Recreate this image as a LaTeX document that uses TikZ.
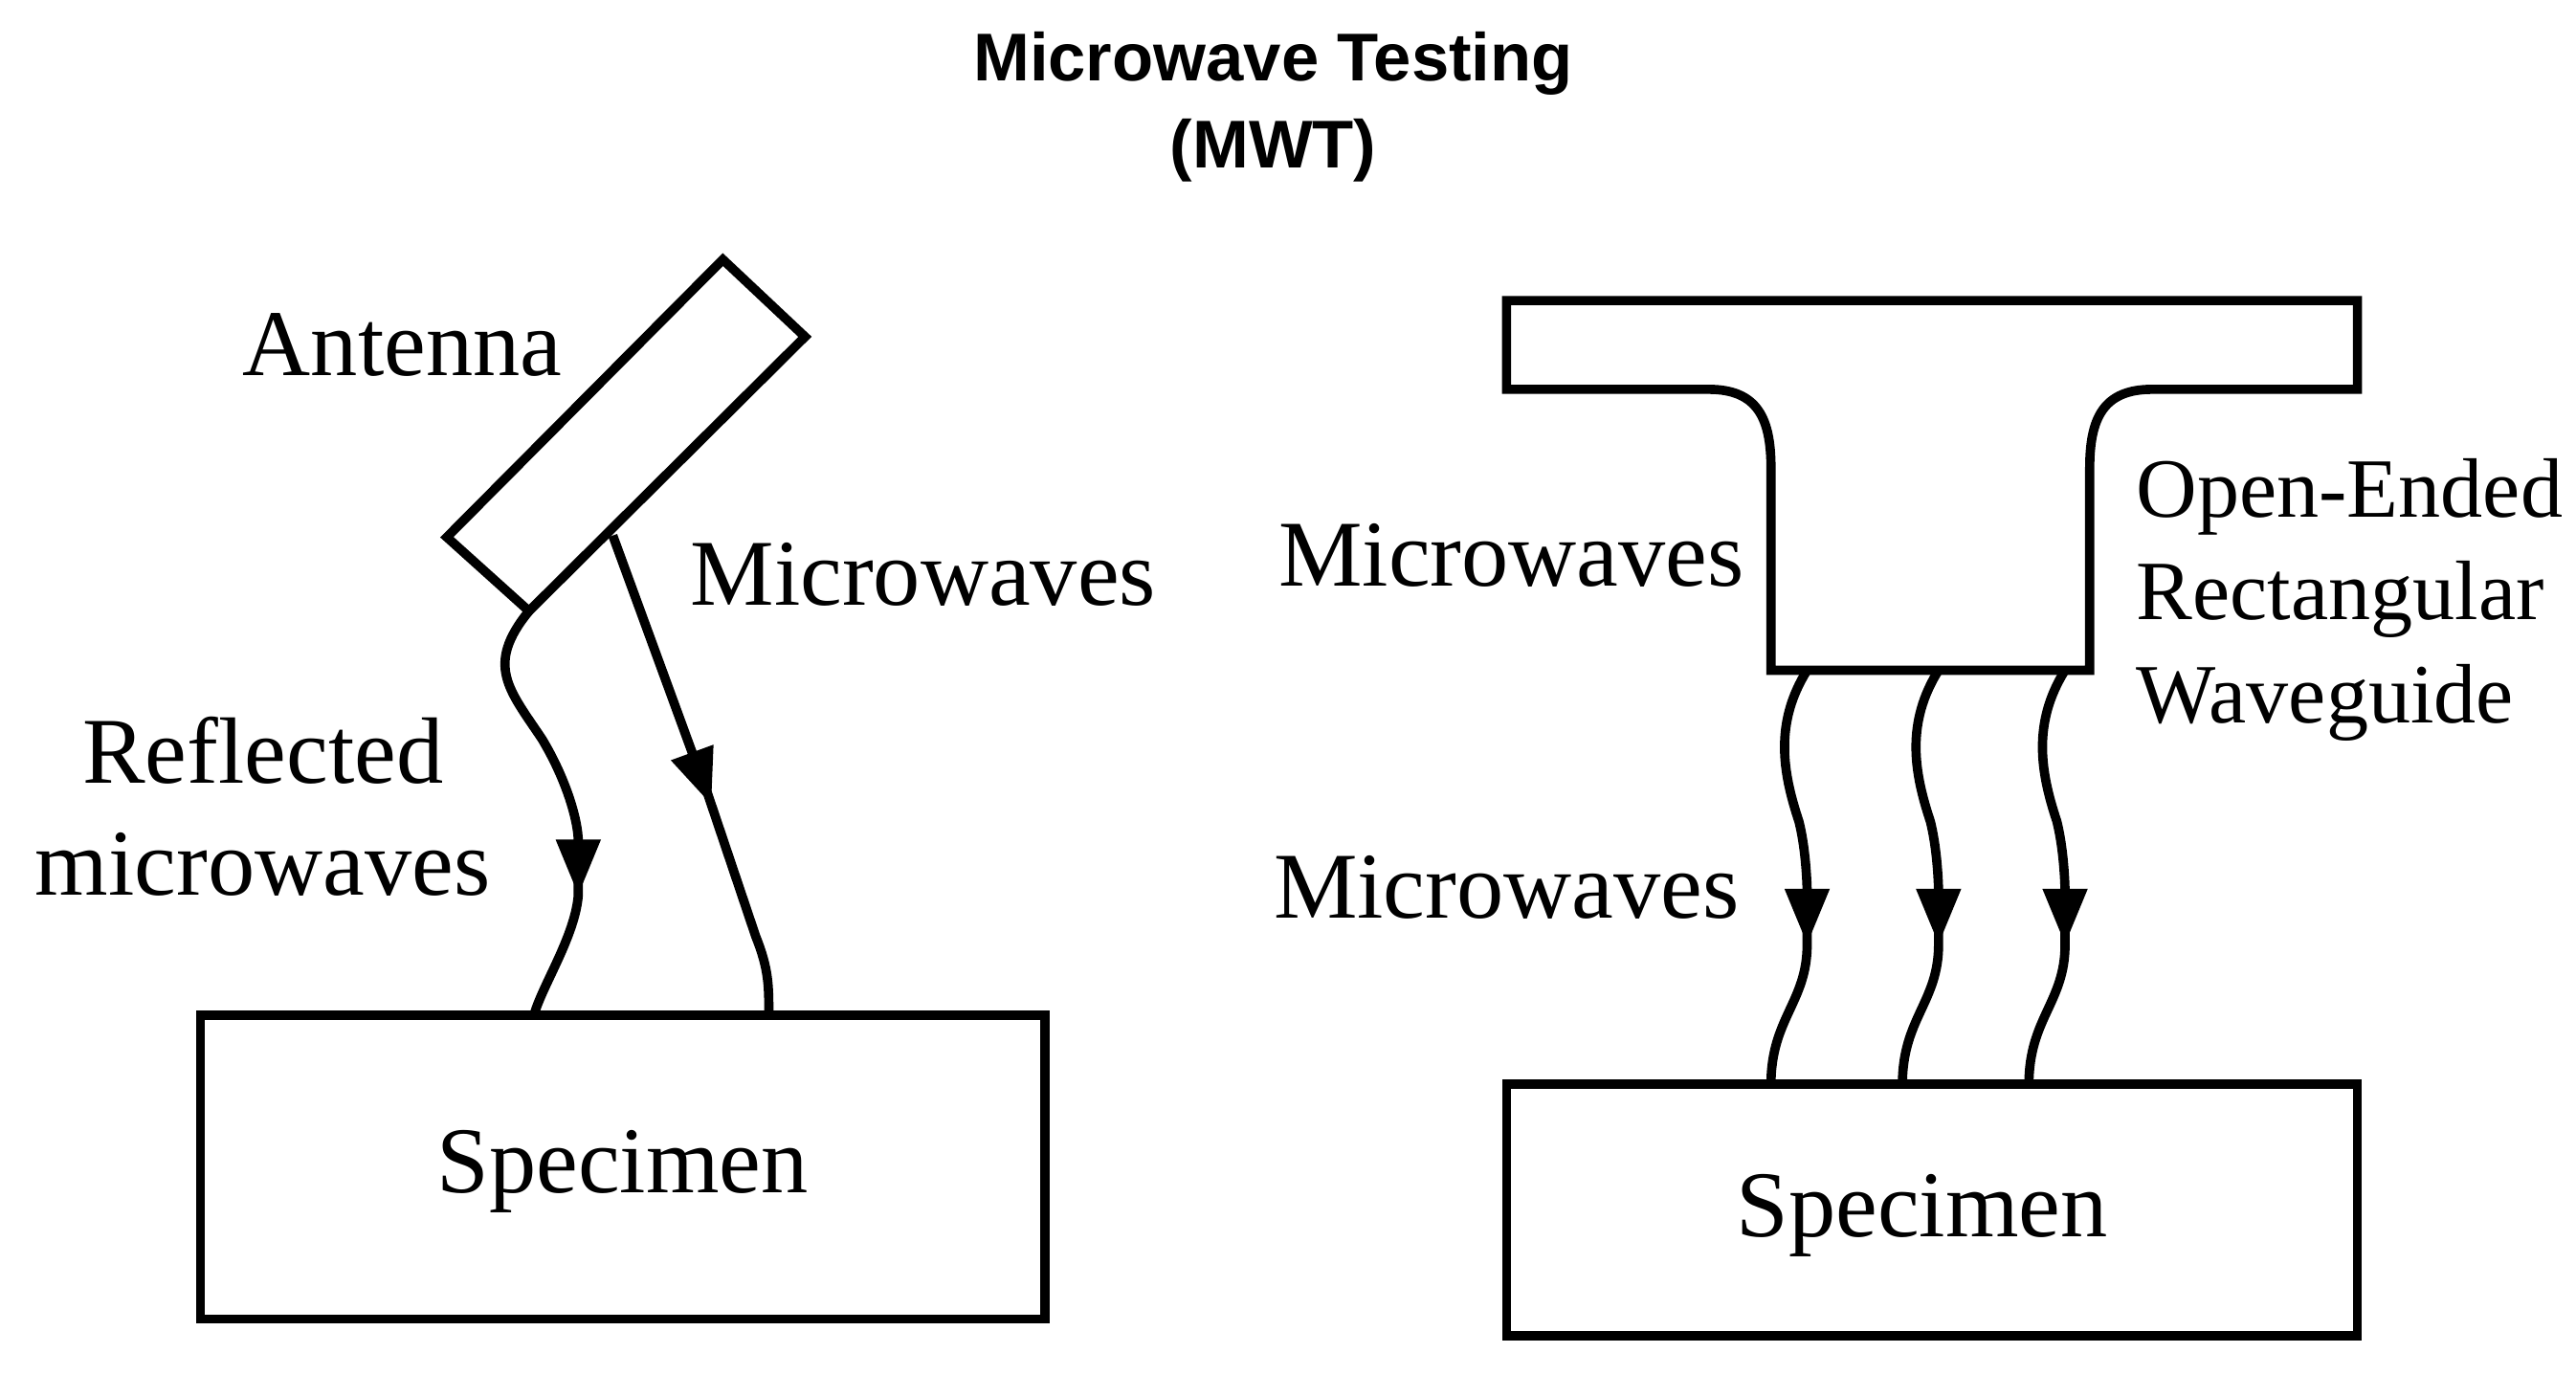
\documentclass[tikz,border=0pt]{standalone}
\usepackage{fontspec}
\setmainfont{Liberation Serif}
\newfontfamily\titlefont{Liberation Sans}
\usetikzlibrary{arrows.meta}
\tikzset{
  lbl/.style={font=\fontsize{16.3pt}{19.5pt}\selectfont},
  box/.style={draw,line width=1.6pt},
  wave/.style={line width=1.6pt},
  tip/.style={-{Triangle[length=3.4mm,width=2.6mm]}}
}
\begin{document}
\begin{tikzpicture}[x=0.01cm,y=-0.01cm]
	\useasboundingbox (0,0) rectangle (1568,837);
	% title
	\node[font=\titlefont\bfseries\fontsize{11.7pt}{15pt}\selectfont,align=center] (title) at (775,65) {Microwave Testing\\(MWT)};

	% left: antenna and specimen
	\draw[box] (440,158) coordinate (a1) -- (490,205) coordinate (a2) -- (322,372) coordinate (a3) -- (272,327) coordinate (a4) -- cycle;
	\draw[box] (122,618) rectangle (636,803);
	\node[lbl] (spec1) at (379,713) {Specimen};
	\node[lbl] (ant) at (245,210) {Antenna};
	\node[lbl] (mw1) at (562,350) {Microwaves};
	\node[lbl,align=center] (refl) at (160,491) {Reflected\\microwaves};

	\coordinate (r1) at (352,545);
	\coordinate (r1b) at (352,530);
	\coordinate (r2) at (325,618);
	\coordinate (m0) at (373,326);
	\coordinate (m1) at (433,490);
	\coordinate (m1b) at (428,475);
	\coordinate (m2) at (468,618);
	\draw[wave,tip] (a3) .. controls (295,405) and (310,420) .. (330,450) .. controls (345,475) and (352,500) .. (r1);
	\draw[wave] (r1b) -- (r1) .. controls (350,570) and (330,600) .. (r2);
	\draw[wave,tip] (m0) -- (m1);
	\draw[wave] (m1b) -- (460,570) .. controls (468,590) and (468,600) .. (m2);

	% right: waveguide and specimen
	\draw[box] (917,183) -- (1435,183) -- (1435,237) -- (1310,237)
		.. controls (1280,237) and (1272,255) .. (1272,285) -- (1272,408)
		-- (1078,408) -- (1078,285) .. controls (1078,255) and (1070,237) .. (1040,237)
		-- (917,237) -- cycle;
	\draw[box] (917,660) rectangle (1435,813);
	\node[lbl] (spec2) at (1170,740) {Specimen};
	\node[lbl] (mw2) at (920,338) {Microwaves};
	\node[lbl] (mw3) at (917,540) {Microwaves};
	\node[lbl,font=\fontsize{14.6pt}{17.8pt}\selectfont,align=left,anchor=west] (wg) at (1288,365) {Open-Ended\\Rectangular\\Waveguide};

	\foreach \x/\n in {1100/1,1180/2,1257/3}{
		\coordinate (w\n a) at (\x,408);
		\coordinate (w\n b) at (\x,575);
		\coordinate (w\n d) at (\x,560);
		\coordinate (w\n c) at (\x-22,660);
		\draw[wave,tip] (w\n a) .. controls (\x-20,440) and (\x-15,470) .. (\x-5,500) .. controls (\x,520) and (\x,545) .. (w\n b);
		\draw[wave] (w\n d) -- (w\n b) .. controls (\x,610) and (\x-22,620) .. (w\n c);
	}
\end{tikzpicture}
\end{document}
